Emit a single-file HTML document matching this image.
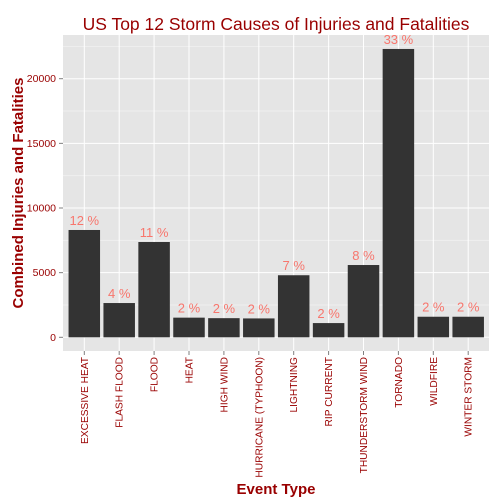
<!DOCTYPE html>
<html><head><meta charset="utf-8"><style>
body{margin:0;background:#fff;}
svg{display:block;font-family:"Liberation Sans",Arial,sans-serif;}
</style></head><body>
<svg id="chart" width="504" height="504" viewBox="0 0 504 504">
<rect x="0" y="0" width="504" height="504" fill="#fff"/>
<rect x="63" y="35" width="426" height="316" fill="#e5e5e5"/>
<g id="grid"></g>
<g id="bars"></g>
<g id="labels"></g>
<g id="yaxis"></g>
<g id="xaxis"></g>
<text x="276" y="30" text-anchor="middle" font-size="17.5" fill="#990000">US Top 12 Storm Causes of Injuries and Fatalities</text>
<text x="276" y="494" text-anchor="middle" font-size="15" font-weight="bold" fill="#990000">Event Type</text>
<text transform="translate(23,193) rotate(-90)" text-anchor="middle" font-size="15" font-weight="bold" fill="#990000">Combined Injuries and Fatalities</text>
</svg>
<script>
const categories = ["EXCESSIVE HEAT","FLASH FLOOD","FLOOD","HEAT","HIGH WIND","HURRICANE (TYPHOON)","LIGHTNING","RIP CURRENT","THUNDERSTORM WIND","TORNADO","WILDFIRE","WINTER STORM"];
const values = [8300,2650,7370,1520,1480,1460,4800,1100,5590,22300,1590,1590];
const pctLabels = ["12 %","4 %","11 %","2 %","2 %","2 %","7 %","2 %","8 %","33 %","2 %","2 %"];
const yTicks = [0,5000,10000,15000,20000];
const yMinor = [2500,7500,12500,17500,22500];

const NS="http://www.w3.org/2000/svg";
const y = v => 337.3 - v*0.01293;
const x = i => 84.3 + i*34.9;
const bw = 31.5;
function mk(tag, attrs, parent, txt){const e=document.createElementNS(NS,tag);for(const k in attrs)e.setAttribute(k,attrs[k]);if(txt!==undefined)e.textContent=txt;document.getElementById(parent).appendChild(e);return e;}

yMinor.forEach(v=>{
  const l=mk("line",{x1:63,x2:489,y1:y(v),y2:y(v),stroke:"#f2f2f2","stroke-width":0.8},"grid");
  
  
});
yTicks.forEach(v=>{
  const l=mk("line",{x1:63,x2:489,y1:y(v),y2:y(v),stroke:"#fff","stroke-width":1},"grid");
  
  
  const t=mk("line",{x1:59,x2:63,y1:y(v),y2:y(v),stroke:"#7f7f7f","stroke-width":1},"yaxis");
  
  
  const tx=mk("text",{x:56,y:y(v)+3.5,"text-anchor":"end","font-size":10.5,fill:"#990000"},"yaxis",String(v));
  
  
});
categories.forEach((c,i)=>{
  const g=mk("line",{x1:x(i),x2:x(i),y1:35,y2:351,stroke:"#fff","stroke-width":1},"grid");
  
  
  const b=mk("rect",{x:x(i)-bw/2,y:y(values[i]),width:bw,height:y(0)-y(values[i]),fill:"#333333"},"bars");
  
  
  const p=mk("text",{x:x(i),y:y(values[i])-5,"text-anchor":"middle","font-size":13,fill:"#F8766D"},"labels",pctLabels[i]);
  
  
  const t=mk("line",{x1:x(i),x2:x(i),y1:351,y2:355,stroke:"#7f7f7f","stroke-width":1},"xaxis");
  
  
  const tx=mk("text",{transform:`translate(${x(i)+3.5},357) rotate(-90)`,"text-anchor":"end","font-size":10.2,fill:"#990000"},"xaxis",c);
  
  
});
</script>
</body></html>
